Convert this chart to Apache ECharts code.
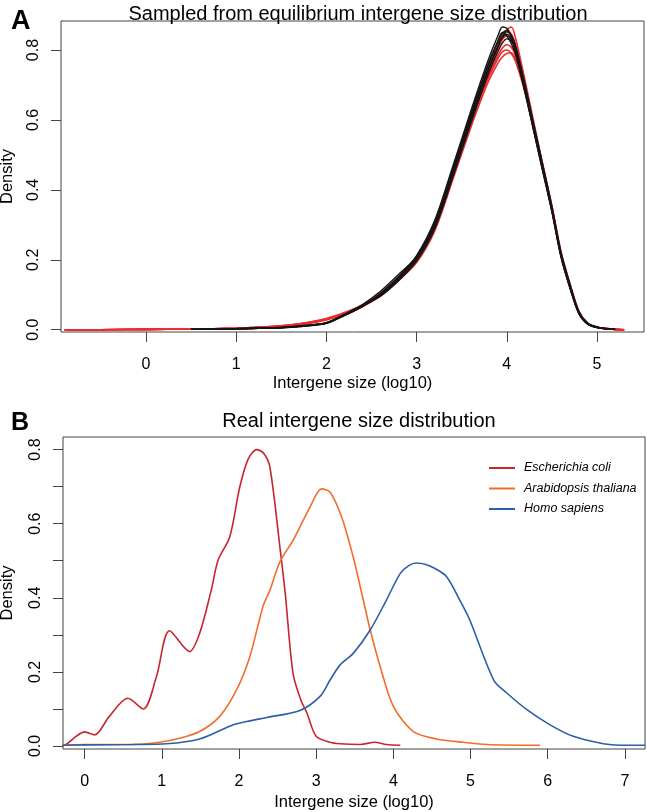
<!DOCTYPE html>
<html>
<head>
<meta charset="utf-8">
<script src="https://cdn.jsdelivr.net/npm/echarts@6/dist/echarts.min.js"></script>
<style>html,body{margin:0;padding:0;background:#fff}#c{width:647px;height:812px}</style>
</head>
<body>
<div id="c"></div>
<script>
// ---------- Panel A: sampled densities ----------
var xA = [-0.9,-0.5,0,0.5,1,1.25,1.5,1.75,2,2.2,2.4,2.6,2.8,3,3.2,3.4,3.6,3.7,3.8,3.9,3.95,4,4.05,4.1,4.2,4.3,4.4,4.5,4.6,4.7,4.8,4.9,5,5.1,5.2,5.3];
var redA1 = [0.000,0.000,0.001,0.002,0.004,0.006,0.010,0.017,0.030,0.046,0.066,0.098,0.142,0.196,0.290,0.440,0.598,0.672,0.742,0.805,0.835,0.858,0.866,0.830,0.715,0.592,0.470,0.352,0.220,0.128,0.050,0.017,0.007,0.003,0.001,0.000];
var redA2 = [0.000,0.000,0.001,0.002,0.004,0.007,0.011,0.018,0.031,0.048,0.070,0.104,0.150,0.206,0.300,0.448,0.595,0.660,0.722,0.775,0.795,0.800,0.790,0.765,0.680,0.572,0.458,0.344,0.214,0.124,0.048,0.016,0.007,0.003,0.001,0.000];
var redA3 = [0.000,0.000,0.001,0.002,0.004,0.006,0.010,0.016,0.028,0.044,0.066,0.096,0.140,0.192,0.282,0.428,0.578,0.648,0.712,0.762,0.780,0.790,0.792,0.772,0.692,0.585,0.470,0.354,0.224,0.132,0.052,0.018,0.008,0.003,0.001,0.000];
var redA4 = [0.000,0.000,0.001,0.002,0.004,0.006,0.010,0.018,0.030,0.047,0.069,0.101,0.146,0.200,0.292,0.442,0.600,0.676,0.748,0.806,0.830,0.840,0.828,0.796,0.694,0.578,0.462,0.348,0.218,0.126,0.049,0.017,0.007,0.003,0.001,0.000];
var redA5 = [0.000,0.000,0.001,0.002,0.004,0.007,0.011,0.019,0.032,0.049,0.071,0.103,0.149,0.204,0.296,0.446,0.606,0.684,0.756,0.815,0.842,0.855,0.846,0.810,0.700,0.580,0.464,0.346,0.216,0.124,0.048,0.016,0.007,0.003,0.001,0.000];
var redA6 = [0.000,0.000,0.001,0.002,0.004,0.006,0.010,0.017,0.029,0.045,0.067,0.099,0.144,0.198,0.290,0.436,0.588,0.660,0.728,0.784,0.806,0.815,0.808,0.782,0.688,0.576,0.462,0.346,0.216,0.125,0.049,0.017,0.007,0.003,0.001,0.000];
var blackA1 = [null,null,null,0.001,0.003,0.004,0.006,0.011,0.019,0.042,0.068,0.100,0.147,0.205,0.300,0.450,0.605,0.680,0.750,0.810,0.835,0.845,0.830,0.795,0.690,0.575,0.460,0.345,0.215,0.125,0.048,0.016,0.007,0.003,0.001,null];
var blackA2 = [null,null,null,0.001,0.002,0.004,0.006,0.010,0.018,0.040,0.066,0.104,0.152,0.212,0.312,0.466,0.625,0.702,0.776,0.840,0.866,0.862,0.838,0.796,0.684,0.568,0.452,0.338,0.210,0.120,0.046,0.015,0.006,0.002,0.001,null];
var blackA3 = [null,null,null,0.001,0.003,0.004,0.006,0.011,0.020,0.044,0.070,0.096,0.140,0.196,0.288,0.435,0.590,0.664,0.735,0.795,0.820,0.832,0.826,0.800,0.700,0.585,0.470,0.352,0.222,0.130,0.052,0.018,0.008,0.003,0.001,null];
var blackA4 = [null,null,null,0.001,0.003,0.005,0.007,0.012,0.020,0.043,0.072,0.110,0.158,0.208,0.298,0.444,0.598,0.674,0.745,0.808,0.838,0.852,0.842,0.810,0.702,0.582,0.462,0.344,0.214,0.122,0.047,0.016,0.007,0.003,0.001,null];
var blackA5 = [null,null,null,0.001,0.002,0.004,0.005,0.010,0.018,0.041,0.067,0.098,0.145,0.202,0.296,0.456,0.612,0.690,0.762,0.822,0.848,0.856,0.836,0.794,0.686,0.570,0.456,0.340,0.212,0.122,0.047,0.016,0.007,0.003,0.001,null];
var blackA6 = [null,null,null,0.001,0.003,0.004,0.006,0.011,0.019,0.042,0.069,0.102,0.150,0.210,0.306,0.458,0.616,0.692,0.765,0.826,0.850,0.840,0.818,0.785,0.680,0.565,0.450,0.336,0.208,0.118,0.044,0.015,0.006,0.003,0.001,null];
var xTicksA = [0,1,2,3,4,5];
var yTicksA = [0,0.2,0.4,0.6,0.8];

// ---------- Panel B: real densities ----------
var ecoliX = [-0.30,-0.24,-0.11,0.0,0.13,0.32,0.56,0.76,0.93,1.10,1.36,1.49,1.64,1.73,1.88,2.01,2.12,2.23,2.32,2.40,2.53,2.60,2.70,2.80,2.88,3.0,3.18,3.31,3.57,3.76,3.91,4.09];
var ecoliY = [0.0,0.004,0.026,0.038,0.030,0.080,0.129,0.100,0.187,0.311,0.255,0.304,0.42,0.502,0.564,0.699,0.775,0.800,0.790,0.753,0.537,0.41,0.196,0.125,0.089,0.026,0.010,0.006,0.004,0.010,0.004,0.002];
var athalX = [-0.28,0.0,0.62,0.97,1.23,1.49,1.75,1.97,2.14,2.31,2.40,2.53,2.70,2.92,3.07,3.18,3.33,3.48,3.61,3.70,3.83,4.0,4.26,4.56,4.91,5.21,5.90];
var athalY = [0.002,0.004,0.004,0.010,0.021,0.039,0.080,0.152,0.241,0.376,0.42,0.497,0.555,0.645,0.694,0.685,0.618,0.51,0.394,0.313,0.214,0.107,0.039,0.019,0.010,0.004,0.002];
var hsapX = [-0.28,0.0,0.62,1.06,1.49,1.92,2.10,2.36,2.79,3.05,3.18,3.31,3.48,3.70,3.91,4.09,4.20,4.30,4.42,4.54,4.69,4.86,4.99,5.30,5.47,5.73,6.03,6.33,6.72,6.94,7.26];
var hsapY = [0.002,0.003,0.004,0.006,0.019,0.057,0.066,0.077,0.096,0.134,0.178,0.219,0.25,0.313,0.394,0.466,0.487,0.494,0.490,0.479,0.457,0.394,0.34,0.178,0.143,0.098,0.057,0.026,0.006,0.002,0.002];
var speciesNames = ['Escherichia coli','Arabidopsis thaliana','Homo sapiens'];
var speciesColors = ['#c8262f','#f26d2c','#2b5fa8'];
var xTicksB = [0,1,2,3,4,5,6,7];
var yTicksB = [0,0.1,0.2,0.3,0.4,0.5,0.6,0.7,0.8];
var yLabelsB = [0,0.2,0.4,0.6,0.8];

function pairs(xs, ys){ var o=[]; for(var i=0;i<xs.length;i++){ o.push([xs[i], ys[i]]); } return o; }

var FONT = 'Liberation Sans, Arial, sans-serif';
var chart = echarts.init(document.getElementById('c'), null, {renderer:'canvas'});

var series = [];
[redA1,redA2,redA3,redA4,redA5,redA6].forEach(function(arr){
  series.push({type:'line', xAxisIndex:0, yAxisIndex:0, data:pairs(xA,arr), symbol:'none', smooth:0.3, silent:true,
    lineStyle:{color:'#ee2a2a', width:1.6}, connectNulls:false});
});
[blackA1,blackA2,blackA3,blackA4,blackA5,blackA6].forEach(function(arr){
  series.push({type:'line', xAxisIndex:0, yAxisIndex:0, data:pairs(xA,arr), symbol:'none', smooth:0.3, silent:true,
    lineStyle:{color:'#151515', width:1.4}, connectNulls:false});
});
var bx=[ecoliX,athalX,hsapX], by=[ecoliY,athalY,hsapY];
for (var k=0;k<3;k++){
  series.push({type:'line', name:speciesNames[k], xAxisIndex:1, yAxisIndex:1, data:pairs(bx[k],by[k]), symbol:'none',
    smooth:0.3, silent:true, color:speciesColors[k], lineStyle:{color:speciesColors[k], width:1.6}});
}

function xAxisCfg(gi, min, max, ticks, margin, gap){
  return {type:'value', gridIndex:gi, min:min, max:max, position:'bottom',
    axisLine:{show:false, onZero:false}, splitLine:{show:false},
    axisTick:{show:true, length:10, customValues:ticks, lineStyle:{color:'#444'}},
    axisLabel:{customValues:ticks, margin:margin, fontSize:16, color:'#000', fontFamily:FONT},
    name:'Intergene size (log10)', nameLocation:'middle', nameGap:gap,
    nameTextStyle:{fontSize:16.5, color:'#000', fontFamily:FONT}};
}
function yAxisCfg(gi, min, max, ticks, labels, gap){
  return {type:'value', gridIndex:gi, min:min, max:max,
    axisLine:{show:false, onZero:false}, splitLine:{show:false},
    axisTick:{show:true, length:10, customValues:ticks, lineStyle:{color:'#444'}},
    axisLabel:{customValues:labels, rotate:90, margin:19, fontSize:16, color:'#000', fontFamily:FONT,
      formatter:function(v){ return v.toFixed(1); }},
    name:'Density', nameLocation:'middle', nameGap:gap,
    nameTextStyle:{fontSize:16.5, color:'#000', fontFamily:FONT}};
}

chart.setOption({
  animation:false,
  backgroundColor:'#fff',
  title:[
    {text:'A', left:6, top:3, textStyle:{fontSize:27, fontWeight:'bold', color:'#000', fontFamily:FONT}},
    {text:'Sampled from equilibrium intergene size distribution', left:353, textAlign:'center', top:-1,
      textStyle:{fontSize:20, fontWeight:'normal', color:'#000', fontFamily:FONT}},
    {text:'B', left:6, top:406, textStyle:{fontSize:25, fontWeight:'bold', color:'#000', fontFamily:FONT}},
    {text:'Real intergene size distribution', left:354, textAlign:'center', top:406,
      textStyle:{fontSize:20, fontWeight:'normal', color:'#000', fontFamily:FONT}}
  ],
  legend:{data:speciesNames, orient:'vertical', left:484, top:456, itemWidth:26, itemHeight:2, itemGap:6.5,
    icon:'rect', selectedMode:false,
    textStyle:{fontSize:12.5, fontStyle:'italic', color:'#000', fontFamily:FONT, lineHeight:14, padding:[0,0,0,4]}},
  grid:[
    {left:61, top:21, width:583, height:311, show:true, borderColor:'#444', borderWidth:1, backgroundColor:'transparent', containLabel:false, outerBoundsMode:'none'},
    {left:63, top:437, width:582, height:312, show:true, borderColor:'#444', borderWidth:1, backgroundColor:'transparent', containLabel:false, outerBoundsMode:'none'}
  ],
  xAxis:[xAxisCfg(0,-0.94,5.52,xTicksA,25,43), xAxisCfg(1,-0.28,7.26,xTicksB,25,45)],
  yAxis:[yAxisCfg(0,-0.0066,0.883,yTicksA,yTicksA,45), yAxisCfg(1,-0.0081,0.834,yTicksB,yLabelsB,47)],
  series:series
});
</script>
</body>
</html>
